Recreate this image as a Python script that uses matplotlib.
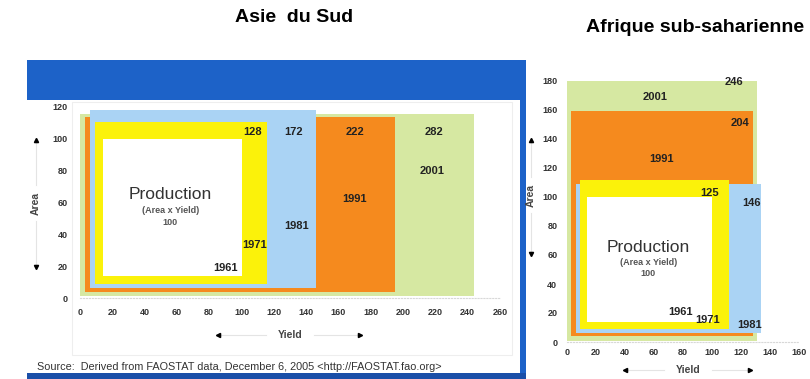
import matplotlib.pyplot as plt
from matplotlib.patches import Rectangle
from matplotlib.lines import Line2D

plt.rcParams['font.family'] = ['Liberation Sans', 'DejaVu Sans']

# data ------------------------------------------------------------------------#
years = ['1961', '1971', '1981', '1991', '2001']

# production index (1961 = 100) and yield index for each decade
asia_prod = [100, 128, 172, 222, 282]
asia_yield = [100, 116, 146, 195, 244]
ssa_prod = [100, 125, 146, 204, 246]
ssa_yield = [100, 112, 134, 128, 131]

asia_xticks = list(range(0, 261, 20))
asia_yticks = list(range(0, 121, 20))
ssa_xticks = list(range(0, 161, 20))
ssa_yticks = list(range(0, 181, 20))

source = 'Source:  Derived from FAOSTAT data, December 6, 2005 <http://FAOSTAT.fao.org>'

# style -----------------------------------------------------------------------#
colors = ['white', '#fbf20a', '#aad3f4', '#f58a1e', '#d6e8a2']
inset_x = [14, 9, 6, 3, 0]
inset_y = [14, 9, 6, 4, 1]
ink = '#222222'
W, H = 810, 379


def fx(px):
    return px / W


def fy(py):
    return 1 - py / H


# nested boxes: area = production / yield ------------------------------------#
def boxes(ax, prod, yld, prod_xy, year_xy):
    area = [p * 100. / y for p, y in zip(prod, yld)]
    for i in range(len(prod) - 1, -1, -1):
        ax.add_patch(Rectangle((inset_x[i], inset_y[i]), yld[i] - inset_x[i],
                               area[i] - inset_y[i], facecolor=colors[i],
                               edgecolor='none', zorder=2))
    for i in range(1, len(prod)):
        ax.text(*prod_xy[i - 1], str(prod[i]), fontsize=8, weight='bold',
                color=ink, ha='center', va='center', zorder=5)
    for i in range(len(prod)):
        ax.text(*year_xy[i], years[i], fontsize=8, weight='bold',
                color=ink, ha='center', va='center', zorder=5)
    ax.text(56, 65, 'Production', fontsize=12.5, color='#333333',
            ha='center', va='center', zorder=5)
    ax.text(56, 55, '(Area x Yield)', fontsize=6.5, weight='bold',
            color='#555555', ha='center', va='center', zorder=5)
    ax.text(56, 47.5, str(prod[0]), fontsize=6.5, weight='bold',
            color='#555555', ha='center', va='center', zorder=5)


def frame(ax, xt, yt, xpad, ypad):
    ax.set_xticks(xt)
    ax.set_yticks(yt)
    ax.set_xlim(xt[0], xt[-1])
    ax.set_ylim(yt[0], yt[-1])
    ax.tick_params(length=0, labelsize=6.5, labelcolor='#333333')
    ax.tick_params(axis='x', pad=xpad)
    ax.tick_params(axis='y', pad=ypad)
    for lbl in ax.get_xticklabels() + ax.get_yticklabels():
        lbl.set_fontweight('bold')
    for s in ['top', 'right', 'left']:
        ax.spines[s].set_visible(False)
    ax.spines['bottom'].set_color('#d8d8d8')
    ax.spines['bottom'].set_linestyle(':')
    ax.patch.set_alpha(0)


# axis captions with small arrowheads -----------------------------------------#
def vcaption(x, y0, y1, ym):
    fig.add_artist(Line2D([fx(x), fx(x)], [fy(y0), fy(ym - 18)], color='#e4e4e4', lw=0.8))
    fig.add_artist(Line2D([fx(x), fx(x)], [fy(ym + 18), fy(y1)], color='#e4e4e4', lw=0.8))
    fig.add_artist(Line2D([fx(x)], [fy(y0)], marker='^', ms=3, color='black'))
    fig.add_artist(Line2D([fx(x)], [fy(y1)], marker='v', ms=3, color='black'))
    fig.text(fx(x), fy(ym), 'Area', rotation=90, fontsize=7.5, weight='bold',
             color='#444444', ha='center', va='center')


def hcaption(x0, x1, xm, y):
    fig.add_artist(Line2D([fx(x0), fx(xm - 24)], [fy(y), fy(y)], color='#e4e4e4', lw=0.8))
    fig.add_artist(Line2D([fx(xm + 24), fx(x1)], [fy(y), fy(y)], color='#e4e4e4', lw=0.8))
    fig.add_artist(Line2D([fx(x0)], [fy(y)], marker='<', ms=3, color='black'))
    fig.add_artist(Line2D([fx(x1)], [fy(y)], marker='>', ms=3, color='black'))
    fig.text(fx(xm), fy(y), 'Yield', fontsize=7.5, weight='bold',
             color='#444444', ha='center', va='center')


fig = plt.figure(figsize=(8.1, 3.79), dpi=100)

# slide decoration around the left chart
fig.add_artist(Rectangle((fx(27), fy(100)), fx(526) - fx(27), fy(60) - fy(100),
                         transform=fig.transFigure, facecolor='#1d62c8',
                         edgecolor='none', zorder=3))
fig.add_artist(Rectangle((fx(520), 0), fx(526) - fx(520), fy(60),
                         transform=fig.transFigure, facecolor='#1d62c8',
                         edgecolor='none', zorder=3))
fig.add_artist(Rectangle((fx(27), 0), fx(526) - fx(27), fy(373),
                         transform=fig.transFigure, facecolor='#1a4fa8',
                         edgecolor='none', zorder=3))
fig.add_artist(Rectangle((fx(72), fy(355)), fx(512) - fx(72), fy(102) - fy(355),
                         transform=fig.transFigure, facecolor='none',
                         edgecolor='#eeeeee', lw=0.8, zorder=0))

# Asie du Sud
ax1 = fig.add_axes([fx(80), fy(298), 420 / W, 191 / H])
frame(ax1, asia_xticks, asia_yticks, 7, 9)
boxes(ax1, asia_prod, asia_yield,
      [(107, 104), (132, 104), (170, 104), (219, 104)],
      [(90, 19), (108, 33), (134, 45), (170, 62), (218, 80)])
vcaption(36, 140, 267, 203)
hcaption(218, 360, 290, 335)

# Afrique sub-saharienne
ax2 = fig.add_axes([fx(567), fy(342), 232 / W, 261 / H])
frame(ax2, ssa_xticks, ssa_yticks, 4, 7)
boxes(ax2, ssa_prod, ssa_yield,
      [(98, 103), (127, 96), (119, 151), (115, 179)],
      [(78, 21), (97, 15), (126, 12), (65, 126), (61, 169)])
vcaption(531, 140, 254, 195)
hcaption(625, 750, 688, 370)

fig.text(fx(37), fy(367), source, fontsize=7.8, color='#333333',
         ha='left', va='center')
fig.text(fx(294), fy(17), 'Asie  du Sud', fontsize=14, weight='bold',
         ha='center', va='center')
fig.text(fx(695), fy(27), 'Afrique sub-saharienne', fontsize=14, weight='bold',
         ha='center', va='center')

fig.savefig('out.png', dpi=100)
